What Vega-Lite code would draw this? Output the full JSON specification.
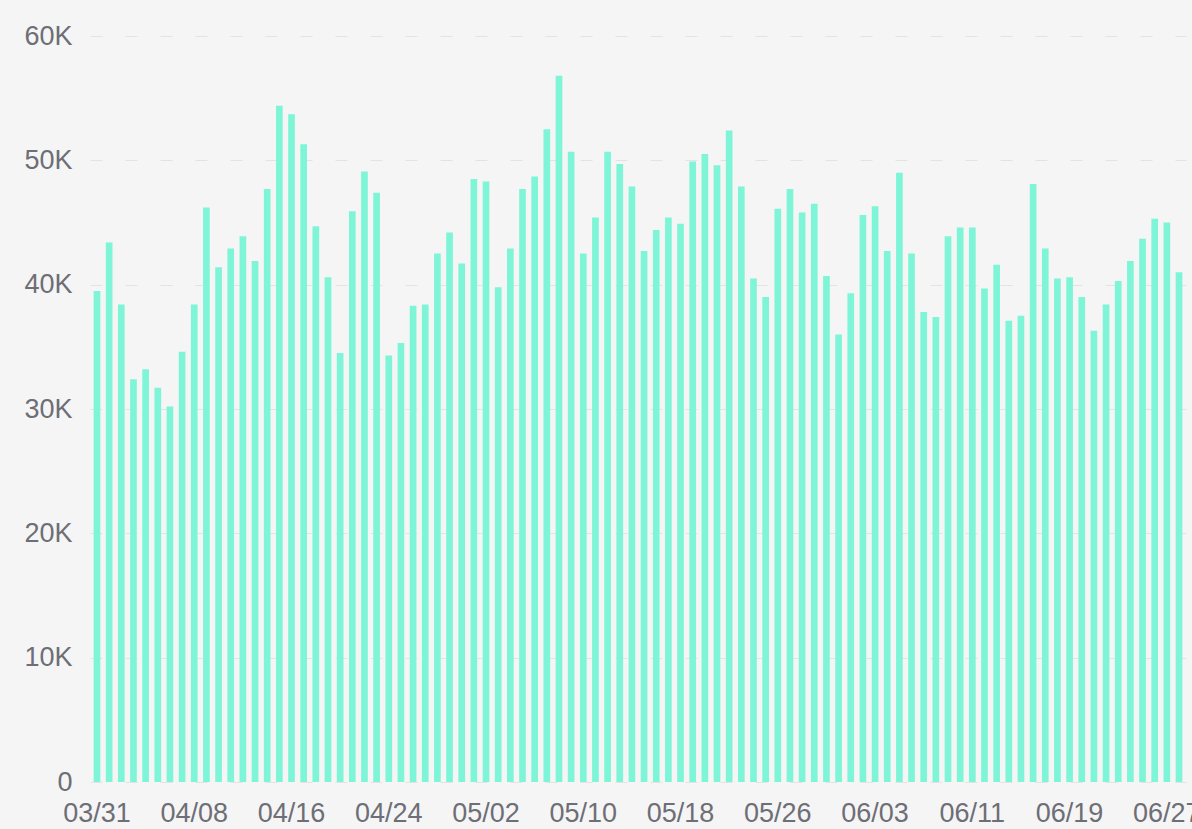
{
  "$schema": "https://vega.github.io/schema/vega-lite/v6.json",
  "autosize": "none",
  "padding": {"left": 90, "top": 36, "right": 6, "bottom": 47},
  "width": 1096,
  "height": 746,
  "background": "#f5f5f5",
  "config": {"view": {"stroke": null}, "font": "Liberation Sans"},
  "data": {"values": [
    {"date": "03/31", "value": 39500}, {"date": "04/01", "value": 43400}, {"date": "04/02", "value": 38400},
    {"date": "04/03", "value": 32400}, {"date": "04/04", "value": 33200}, {"date": "04/05", "value": 31700},
    {"date": "04/06", "value": 30200}, {"date": "04/07", "value": 34600}, {"date": "04/08", "value": 38400},
    {"date": "04/09", "value": 46200}, {"date": "04/10", "value": 41400}, {"date": "04/11", "value": 42900},
    {"date": "04/12", "value": 43900}, {"date": "04/13", "value": 41900}, {"date": "04/14", "value": 47700},
    {"date": "04/15", "value": 54400}, {"date": "04/16", "value": 53700}, {"date": "04/17", "value": 51300},
    {"date": "04/18", "value": 44700}, {"date": "04/19", "value": 40600}, {"date": "04/20", "value": 34500},
    {"date": "04/21", "value": 45900}, {"date": "04/22", "value": 49100}, {"date": "04/23", "value": 47400},
    {"date": "04/24", "value": 34300}, {"date": "04/25", "value": 35300}, {"date": "04/26", "value": 38300},
    {"date": "04/27", "value": 38400}, {"date": "04/28", "value": 42500}, {"date": "04/29", "value": 44200},
    {"date": "04/30", "value": 41700}, {"date": "05/01", "value": 48500}, {"date": "05/02", "value": 48300},
    {"date": "05/03", "value": 39800}, {"date": "05/04", "value": 42900}, {"date": "05/05", "value": 47700},
    {"date": "05/06", "value": 48700}, {"date": "05/07", "value": 52500}, {"date": "05/08", "value": 56800},
    {"date": "05/09", "value": 50700}, {"date": "05/10", "value": 42500}, {"date": "05/11", "value": 45400},
    {"date": "05/12", "value": 50700}, {"date": "05/13", "value": 49700}, {"date": "05/14", "value": 47900},
    {"date": "05/15", "value": 42700}, {"date": "05/16", "value": 44400}, {"date": "05/17", "value": 45400},
    {"date": "05/18", "value": 44900}, {"date": "05/19", "value": 49900}, {"date": "05/20", "value": 50500},
    {"date": "05/21", "value": 49600}, {"date": "05/22", "value": 52400}, {"date": "05/23", "value": 47900},
    {"date": "05/24", "value": 40500}, {"date": "05/25", "value": 39000}, {"date": "05/26", "value": 46100},
    {"date": "05/27", "value": 47700}, {"date": "05/28", "value": 45800}, {"date": "05/29", "value": 46500},
    {"date": "05/30", "value": 40700}, {"date": "05/31", "value": 36000}, {"date": "06/01", "value": 39300},
    {"date": "06/02", "value": 45600}, {"date": "06/03", "value": 46300}, {"date": "06/04", "value": 42700},
    {"date": "06/05", "value": 49000}, {"date": "06/06", "value": 42500}, {"date": "06/07", "value": 37800},
    {"date": "06/08", "value": 37400}, {"date": "06/09", "value": 43900}, {"date": "06/10", "value": 44600},
    {"date": "06/11", "value": 44600}, {"date": "06/12", "value": 39700}, {"date": "06/13", "value": 41600},
    {"date": "06/14", "value": 37100}, {"date": "06/15", "value": 37500}, {"date": "06/16", "value": 48100},
    {"date": "06/17", "value": 42900}, {"date": "06/18", "value": 40500}, {"date": "06/19", "value": 40600},
    {"date": "06/20", "value": 39000}, {"date": "06/21", "value": 36300}, {"date": "06/22", "value": 38400},
    {"date": "06/23", "value": 40300}, {"date": "06/24", "value": 41900}, {"date": "06/25", "value": 43700},
    {"date": "06/26", "value": 45300}, {"date": "06/27", "value": 45000}, {"date": "06/28", "value": 41000}
  ]},
  "mark": {"type": "bar", "color": "#7ff5d7"},
  "encoding": {
    "x": {
      "field": "date", "type": "ordinal", "sort": null,
      "scale": {"paddingInner": 0.45, "paddingOuter": 0.3},
      "axis": {
        "title": null,
        "values": ["03/31", "04/08", "04/16", "04/24", "05/02", "05/10", "05/18", "05/26", "06/03", "06/11", "06/19", "06/27"],
        "labelAngle": 0, "ticks": false, "domain": false, "grid": false,
        "labelFontSize": 27, "labelColor": "#6e6e76", "labelPadding": 18
      }
    },
    "y": {
      "field": "value", "type": "quantitative",
      "scale": {"domain": [0, 60000], "nice": false},
      "axis": {
        "title": null,
        "values": [0, 10000, 20000, 30000, 40000, 50000, 60000],
        "labelExpr": "datum.value == 0 ? '0' : (datum.value / 1000) + 'K'",
        "ticks": false, "domain": false,
        "labelFontSize": 27, "labelColor": "#6e6e76", "labelPadding": 18,
        "grid": true, "gridColor": "#e3e3e3", "gridDash": [12, 23], "gridWidth": 1
      }
    }
  }
}
